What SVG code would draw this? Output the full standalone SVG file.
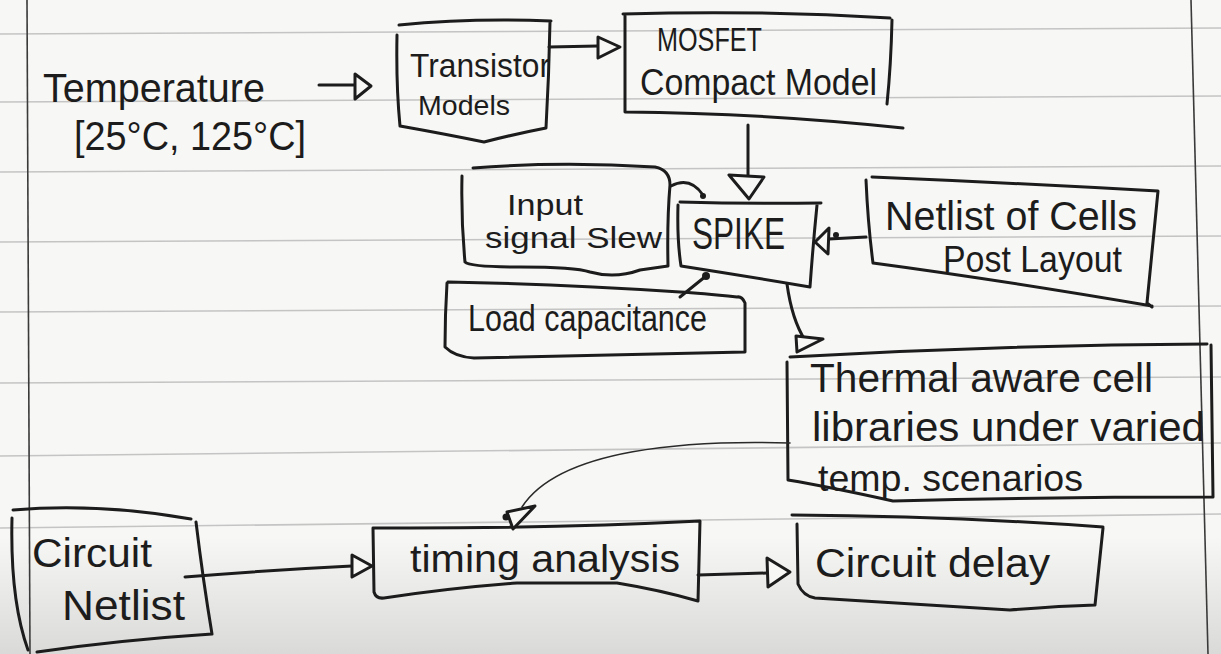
<svg xmlns="http://www.w3.org/2000/svg" width="1221" height="654" viewBox="0 0 1221 654">
  <defs>
    <linearGradient id="shade" x1="0" y1="0" x2="0" y2="1">
      <stop offset="0" stop-color="#000" stop-opacity="0"/>
      <stop offset="0.82" stop-color="#000" stop-opacity="0"/>
      <stop offset="1" stop-color="#000" stop-opacity="0.12"/>
    </linearGradient>
  </defs>
  <style>
    .rule { stroke: #c4c4c4; stroke-width: 1.6; fill: none; }
    .margin { stroke: #3a3a3a; stroke-width: 1.6; fill: none; }
    .box { fill: none; stroke: #1c1c1c; stroke-width: 3; stroke-linecap: round; stroke-linejoin: round; }
    .line { fill: none; stroke: #1c1c1c; stroke-width: 3; stroke-linecap: round; stroke-linejoin: round; }
    .thin { fill: none; stroke: #2a2a2a; stroke-width: 1.6; stroke-linecap: round; }
    .head { fill: #f7f7f5; stroke: #1c1c1c; stroke-width: 3; stroke-linejoin: round; }
    .blob { fill: #1c1c1c; }
    .t { font-family: "Liberation Sans", Arial, sans-serif; fill: #1c1c1c; }
  </style>

  <!-- paper -->
  <rect x="0" y="0" width="1221" height="654" fill="#f7f7f5"/>
  <rect x="0" y="0" width="1221" height="654" fill="url(#shade)"/>
  <g id="paper">
    <line class="rule" x1="0" y1="34" x2="1221" y2="28"/>
    <line class="rule" x1="0" y1="102" x2="1221" y2="96"/>
    <line class="rule" x1="0" y1="172" x2="1221" y2="166"/>
    <line class="rule" x1="0" y1="242" x2="1221" y2="236"/>
    <line class="rule" x1="0" y1="312" x2="1221" y2="306"/>
    <line class="rule" x1="0" y1="383" x2="1221" y2="377"/>
    <line class="rule" x1="0" y1="456" x2="1221" y2="443"/>
    <line class="rule" x1="0" y1="528" x2="1221" y2="514"/>
    <line class="margin" x1="27" y1="0" x2="30" y2="654"/>
    <line class="margin" x1="1191" y1="0" x2="1208" y2="654"/>
  </g>

  <g id="temperature">
    <text class="t" x="43" y="102" font-size="40" textLength="222" lengthAdjust="spacingAndGlyphs">Temperature</text>
    <text class="t" x="74" y="150" font-size="40" textLength="232" lengthAdjust="spacingAndGlyphs">[25°C, 125°C]</text>
  </g>

  <g id="transistor-models">
    <path class="box" d="M551,21 Q470,18 399,25 M397,35 Q396,85 400,126 Q445,134 484,142 Q515,134 546,128 Q549,75 550,22"/>
    <text class="t" x="410" y="77" font-size="34" textLength="140" lengthAdjust="spacingAndGlyphs">Transistor</text>
    <text class="t" x="418" y="115" font-size="27" textLength="92" lengthAdjust="spacingAndGlyphs">Models</text>
  </g>

  <g id="mosfet-compact-model">
    <path class="box" d="M623,14 Q760,10 890,18 M892,20 Q891,65 887,104 M625,16 L625,112 Q760,113 903,128"/>
    <text class="t" x="657" y="51" font-size="34" textLength="105" lengthAdjust="spacingAndGlyphs">MOSFET</text>
    <text class="t" x="640" y="95" font-size="36" textLength="237" lengthAdjust="spacingAndGlyphs">Compact Model</text>
  </g>

  <g id="input-signal-slew">
    <path class="box" d="M473,168 Q560,161 655,167 Q670,170 670,185 Q667,220 668,266 L640,270 Q615,279 590,272 Q575,267 520,267 Q470,267 465,262 Q461,220 462,176"/>
    <text class="t" x="507" y="215" font-size="30" textLength="76" lengthAdjust="spacingAndGlyphs">Input</text>
    <text class="t" x="485" y="248" font-size="30" textLength="177" lengthAdjust="spacingAndGlyphs">signal Slew</text>
  </g>

  <g id="spice">
    <path class="box" d="M680,202 Q750,204 821,203 M817,205 Q813,245 810,287 M678,205 Q677,240 681,266 Q745,276 810,287"/>
    <text class="t" x="692" y="249" font-size="44" textLength="93" lengthAdjust="spacingAndGlyphs">SPIKE</text>
  </g>

  <g id="netlist-of-cells">
    <path class="box" d="M872,177 Q1015,183 1158,191 Q1152,250 1147,303 L1152,307 M866,180 Q868,225 873,263 Q1000,280 1152,306"/>
    <text class="t" x="885" y="230" font-size="40" textLength="252" lengthAdjust="spacingAndGlyphs">Netlist of Cells</text>
    <text class="t" x="943" y="272" font-size="36" textLength="179" lengthAdjust="spacingAndGlyphs">Post Layout</text>
  </g>

  <g id="load-capacitance">
    <path class="box" d="M448,282 Q560,284 680,292 Q700,293 737,297 Q742,296 745,303 L745,352 Q610,355 474,358 Q455,357 445,347 Q445,315 447,283"/>
    <text class="t" x="468" y="331" font-size="36" textLength="239" lengthAdjust="spacingAndGlyphs">Load capacitance</text>
  </g>

  <g id="thermal-libraries">
    <path class="box" d="M790,357 Q1000,345 1207,344 M787,362 L788,480 Q830,487 893,501 Q1050,497 1213,497 L1211,345"/>
    <text class="t" x="810" y="392" font-size="40" textLength="343" lengthAdjust="spacingAndGlyphs">Thermal aware cell</text>
    <text class="t" x="812" y="441" font-size="40" textLength="393" lengthAdjust="spacingAndGlyphs">libraries under varied</text>
    <text class="t" x="818" y="491" font-size="36" textLength="265" lengthAdjust="spacingAndGlyphs">temp. scenarios</text>
  </g>

  <g id="circuit-netlist">
    <path class="box" d="M13,510 Q100,503 191,519 M196,522 Q203,580 212,634 Q120,640 37,652 M12,518 Q10,600 28,650"/>
    <text class="t" x="32" y="567" font-size="40" textLength="120" lengthAdjust="spacingAndGlyphs">Circuit</text>
    <text class="t" x="62" y="620" font-size="42" textLength="123" lengthAdjust="spacingAndGlyphs">Netlist</text>
  </g>

  <g id="timing-analysis">
    <path class="box" d="M700,521 Q540,529 373,528 L374,592 Q376,599 384,598 Q450,588 517,583 L617,583 Q660,590 698,601 Z"/>
    <text class="t" x="410" y="572" font-size="38" textLength="270" lengthAdjust="spacingAndGlyphs">timing analysis</text>
  </g>

  <g id="circuit-delay">
    <path class="box" d="M792,515 Q950,516 1103,527 M797,524 L798,584 Q803,596 815,598 Q950,606 1010,610 Q1060,606 1095,605 L1103,528"/>
    <text class="t" x="815" y="577" font-size="40" textLength="235" lengthAdjust="spacingAndGlyphs">Circuit delay</text>
  </g>

  <g id="connectors">
    <!-- Temperature -> Transistor Models -->
    <path class="line" d="M319,85 L356,85"/>
    <polygon class="head" points="355,74 371,86 355,99"/>
    <!-- Transistor Models -> MOSFET -->
    <path class="line" d="M549,47 L598,46"/>
    <polygon class="head" points="598,37 620,47 598,58"/>
    <!-- MOSFET -> SPIKE -->
    <path class="line" d="M748,125 L748,176"/>
    <polygon class="head" points="729,175 764,177 749,199"/>
    <!-- Input signal slew -> SPIKE -->
    <path class="line" d="M671,186 Q690,176 703,195"/>
    <circle class="blob" cx="703" cy="196" r="3"/>
    <!-- Netlist of cells -> SPIKE -->
    <path class="line" d="M866,237 L829,239"/>
    <circle class="blob" cx="836" cy="235" r="3"/>
    <polygon class="head" points="815,242 829,228 828,254"/>
    <!-- Load capacitance -> SPIKE -->
    <path class="line" d="M680,297 L706,276"/>
    <circle class="blob" cx="706" cy="276" r="4"/>
    <!-- SPIKE -> Thermal libraries -->
    <path class="line" d="M787,284 Q792,320 805,340"/>
    <polygon class="head" points="796,336 823,339 797,352"/>
    <!-- Thermal libraries -> Timing analysis -->
    <path class="thin" d="M790,443 C690,440 560,448 522,507"/>
    <polygon class="head" points="507,512 535,506 513,529"/>
    <circle class="blob" cx="506" cy="517" r="3.5"/>
    <!-- Circuit Netlist -> Timing analysis -->
    <path class="line" d="M185,577 Q270,570 352,566"/>
    <polygon class="head" points="352,555 372,566 352,577"/>
    <!-- Timing analysis -> Circuit delay -->
    <path class="line" d="M698,575 L767,573"/>
    <polygon class="head" points="767,558 790,572 768,587"/>
  </g>
</svg>
